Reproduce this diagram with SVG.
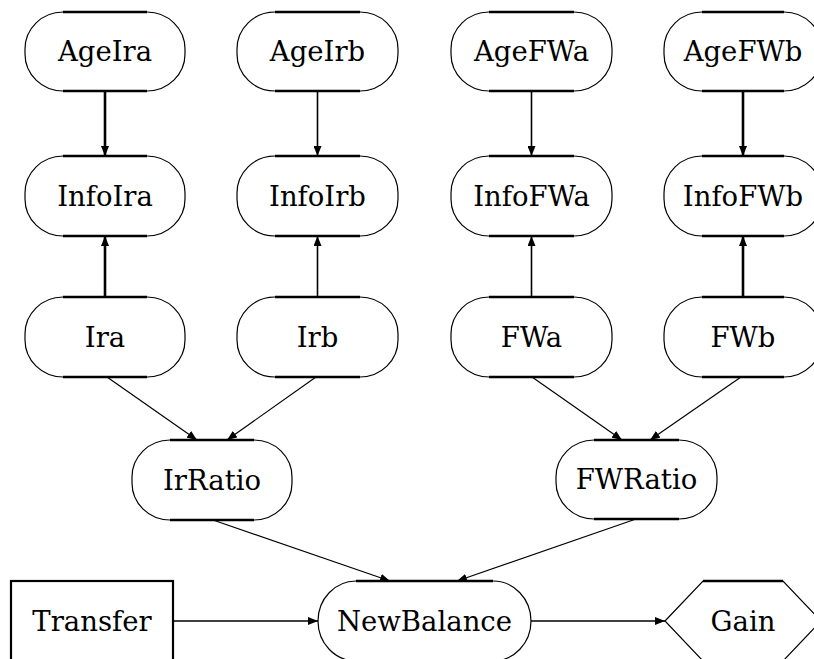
<svg xmlns="http://www.w3.org/2000/svg" width="814" height="659" viewBox="0 0 814 659">
  <style>
    .node rect { fill: #fff; stroke: #000; stroke-width: 1.2; }
    .node rect.box { stroke-width: 2.2; }
    .node .edge { stroke: #000; stroke-width: 2.6; }
    .node text { font-family: "DejaVu Serif", "Liberation Serif", serif; font-size: 27.5px; text-anchor: middle; fill: #000; }
    .links line { stroke: #000; stroke-width: 1.2; fill: none; marker-end: url(#arrow); }
    .links line.heavy { stroke-width: 2.6; }
    .links line.mid { stroke-width: 1.6; }
  </style>
  <defs>
    <marker id="arrow" viewBox="0 0 10 8" refX="10" refY="4" markerWidth="10" markerHeight="8" markerUnits="userSpaceOnUse" orient="auto">
      <path d="M0,0 L10,4 L0,8 Z" fill="#000"/>
    </marker>
  </defs>

  <rect width="814" height="659" fill="#fff"/>

  <!-- connectors -->
  <g id="connectors" class="links">
    <line class="heavy" x1="105" y1="91" x2="105" y2="156"/>
    <line class="mid" x1="317.5" y1="91" x2="317.5" y2="156"/>
    <line class="mid" x1="531.5" y1="91" x2="531.5" y2="156"/>
    <line class="heavy" x1="743" y1="91" x2="743" y2="156"/>

    <line class="heavy" x1="105" y1="297" x2="105" y2="236"/>
    <line class="mid" x1="317.5" y1="297" x2="317.5" y2="236"/>
    <line class="mid" x1="531.5" y1="297" x2="531.5" y2="236"/>
    <line class="heavy" x1="743" y1="297" x2="743" y2="236"/>

    <line x1="107" y1="377" x2="197" y2="440"/>
    <line x1="316" y1="377" x2="227" y2="440"/>
    <line x1="532" y1="377" x2="622" y2="440"/>
    <line x1="741" y1="377" x2="650" y2="440"/>

    <line x1="213" y1="520" x2="390" y2="581"/>
    <line x1="636" y1="519" x2="457" y2="581"/>

    <line class="mid" x1="173" y1="621" x2="318" y2="621"/>
    <line class="mid" x1="531" y1="621" x2="665" y2="621"/>
  </g>

  <!-- first row -->
  <g id="AgeIra" class="node">
    <rect x="25" y="12" width="160" height="79" rx="38" ry="37"/>
    <line class="edge" x1="63" y1="12" x2="147" y2="12"/>
    <line class="edge" x1="63" y1="91" x2="147" y2="91"/>
    <text x="105" y="61">AgeIra</text>
  </g>
  <g id="AgeIrb" class="node">
    <rect x="237" y="12" width="161" height="79" rx="38" ry="37"/>
    <line class="edge" x1="275" y1="12" x2="360" y2="12"/>
    <line class="edge" x1="275" y1="91" x2="360" y2="91"/>
    <text x="317.5" y="61">AgeIrb</text>
  </g>
  <g id="AgeFWa" class="node">
    <rect x="451" y="12" width="161" height="79" rx="38" ry="37"/>
    <line class="edge" x1="489" y1="12" x2="574" y2="12"/>
    <line class="edge" x1="489" y1="91" x2="574" y2="91"/>
    <text x="531.5" y="61">AgeFWa</text>
  </g>
  <g id="AgeFWb" class="node">
    <rect x="664" y="12" width="158" height="79" rx="38" ry="37"/>
    <line class="edge" x1="702" y1="12" x2="784" y2="12"/>
    <line class="edge" x1="702" y1="91" x2="784" y2="91"/>
    <text x="743" y="61">AgeFWb</text>
  </g>

  <!-- second row -->
  <g id="InfoIra" class="node">
    <rect x="25" y="156" width="160" height="80" rx="38" ry="37"/>
    <line class="edge" x1="63" y1="156" x2="147" y2="156"/>
    <line class="edge" x1="63" y1="236" x2="147" y2="236"/>
    <text x="105" y="205.5">InfoIra</text>
  </g>
  <g id="InfoIrb" class="node">
    <rect x="237" y="156" width="161" height="80" rx="38" ry="37"/>
    <line class="edge" x1="275" y1="156" x2="360" y2="156"/>
    <line class="edge" x1="275" y1="236" x2="360" y2="236"/>
    <text x="317.5" y="205.5">InfoIrb</text>
  </g>
  <g id="InfoFWa" class="node">
    <rect x="451" y="156" width="161" height="80" rx="38" ry="37"/>
    <line class="edge" x1="489" y1="156" x2="574" y2="156"/>
    <line class="edge" x1="489" y1="236" x2="574" y2="236"/>
    <text x="531.5" y="205.5">InfoFWa</text>
  </g>
  <g id="InfoFWb" class="node">
    <rect x="664" y="156" width="158" height="80" rx="38" ry="37"/>
    <line class="edge" x1="702" y1="156" x2="784" y2="156"/>
    <line class="edge" x1="702" y1="236" x2="784" y2="236"/>
    <text x="743" y="205.5">InfoFWb</text>
  </g>

  <!-- third row -->
  <g id="Ira" class="node">
    <rect x="25" y="297" width="160" height="80" rx="38" ry="37"/>
    <line class="edge" x1="63" y1="297" x2="147" y2="297"/>
    <line class="edge" x1="63" y1="377" x2="147" y2="377"/>
    <text x="105" y="346.5">Ira</text>
  </g>
  <g id="Irb" class="node">
    <rect x="237" y="297" width="161" height="80" rx="38" ry="37"/>
    <line class="edge" x1="275" y1="297" x2="360" y2="297"/>
    <line class="edge" x1="275" y1="377" x2="360" y2="377"/>
    <text x="317.5" y="346.5">Irb</text>
  </g>
  <g id="FWa" class="node">
    <rect x="451" y="297" width="161" height="80" rx="38" ry="37"/>
    <line class="edge" x1="489" y1="297" x2="574" y2="297"/>
    <line class="edge" x1="489" y1="377" x2="574" y2="377"/>
    <text x="531.5" y="346.5">FWa</text>
  </g>
  <g id="FWb" class="node">
    <rect x="664" y="297" width="158" height="80" rx="38" ry="37"/>
    <line class="edge" x1="702" y1="297" x2="784" y2="297"/>
    <line class="edge" x1="702" y1="377" x2="784" y2="377"/>
    <text x="743" y="346.5">FWb</text>
  </g>

  <!-- ratios -->
  <g id="IrRatio" class="node">
    <rect x="132" y="440" width="160" height="80" rx="38" ry="37"/>
    <line class="edge" x1="170" y1="440" x2="254" y2="440"/>
    <line class="edge" x1="170" y1="520" x2="254" y2="520"/>
    <text x="212" y="489.5">IrRatio</text>
  </g>
  <g id="FWRatio" class="node">
    <rect x="556" y="440" width="161" height="79" rx="38" ry="37"/>
    <line class="edge" x1="594" y1="440" x2="679" y2="440"/>
    <line class="edge" x1="594" y1="519" x2="679" y2="519"/>
    <text x="636.5" y="489">FWRatio</text>
  </g>

  <!-- bottom row -->
  <g id="Transfer" class="node">
    <rect class="box" x="11" y="581" width="162" height="80"/>
    <text x="92" y="630.5">Transfer</text>
  </g>
  <g id="NewBalance" class="node">
    <rect x="318" y="581" width="213" height="80" rx="38" ry="40"/>
    <line class="edge" x1="356" y1="581" x2="493" y2="581"/>
    <text x="424.5" y="630.5">NewBalance</text>
  </g>
  <g id="Gain" class="node">
    <polygon points="665,621 703,581 783,581 821,621 783,661 703,661" fill="#fff" stroke="#000" stroke-width="1.2"/>
    <line class="edge" x1="703" y1="581" x2="783" y2="581"/>
    <text x="743" y="630.5">Gain</text>
  </g>
</svg>
